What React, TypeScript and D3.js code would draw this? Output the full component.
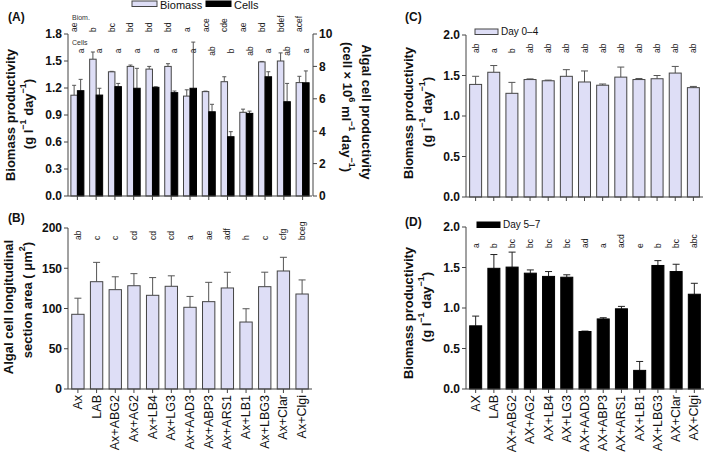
import React from 'react';
import * as d3 from 'd3';

// ---- data ----
const groupsAx = ['Ax', 'LAB', 'Ax+ABG2', 'Ax+AG2', 'Ax+LB4', 'Ax+LG3', 'Ax+AAD3', 'Ax+ABP3', 'Ax+ARS1', 'Ax+LB1', 'Ax+LBG3', 'Ax+Clar', 'Ax+Clgi'];
const groupsAX = ['AX', 'LAB', 'AX+ABG2', 'AX+AG2', 'AX+LB4', 'AX+LG3', 'AX+AAD3', 'AX+ABP3', 'AX+ARS1', 'AX+LB1', 'AX+LBG3', 'AX+Clar', 'AX+Clgi'];

// (A) biomass productivity (g/l/day) and cell productivity (10^6 cells/ml/day)
const biomassA = [1.12, 1.52, 1.38, 1.44, 1.41, 1.44, 1.11, 1.16, 1.27, 0.93, 1.49, 1.5, 1.26];
const biomassErrA = [0.11, 0.08, 0.005, 0.015, 0.03, 0.03, 0.07, 0.005, 0.055, 0.035, 0.005, 0.09, 0.07];
const cellsA = [6.5, 6.23, 6.75, 6.65, 6.71, 6.38, 6.65, 5.2, 3.66, 5.1, 7.36, 5.82, 6.99];
const cellsErrA = [0.7, 0.42, 0.2, 1.23, 0.03, 0.1, 2.85, 0.46, 0.31, 0.14, 0.31, 1.13, 0.73];
const biomLettersA = ['ae', 'b', 'bc', 'bd', 'bd', 'bd', 'a', 'ace', 'cde', 'ae', 'bd', 'bdef', 'acef'];
const cellLettersA = ['a', 'a', 'a', 'a', 'a', 'a', 'a', 'ab', 'b', 'ab', 'a', 'ab', 'a'];

// (B) cell longitudinal section area (um2)
const areaB = [92.8, 133.3, 123.4, 128.3, 116.4, 127.6, 101.5, 108.5, 125.5, 83.2, 127.1, 146.6, 118];
const areaErrB = [20, 24, 16, 15, 22, 13, 13.5, 24, 19.5, 16.5, 18, 17, 17.5];
const lettersB = ['ab', 'c', 'c', 'cd', 'cd', 'cd', 'a', 'ae', 'adf', 'h', 'c', 'cfg', 'bceg'];

// (C) biomass productivity day 0-4
const day04 = [1.39, 1.54, 1.28, 1.45, 1.435, 1.49, 1.42, 1.38, 1.48, 1.45, 1.46, 1.53, 1.35];
const day04Err = [0.1, 0.083, 0.135, 0.008, 0.008, 0.082, 0.136, 0.015, 0.124, 0.013, 0.04, 0.082, 0.015];
const lettersC = ['ab', 'a', 'b', 'ab', 'ab', 'ab', 'ab', 'ab', 'ab', 'ab', 'ab', 'ab', 'ab'];

// (D) biomass productivity day 5-7
const day57 = [0.78, 1.49, 1.505, 1.43, 1.39, 1.38, 0.71, 0.865, 0.99, 0.23, 1.525, 1.45, 1.17];
const day57Err = [0.12, 0.17, 0.185, 0.04, 0.06, 0.03, 0.005, 0.015, 0.03, 0.11, 0.06, 0.09, 0.135];
const lettersD = ['a', 'b', 'bc', 'bc', 'bc', 'bc', 'ad', 'a', 'acd', 'e', 'b', 'bc', 'abc'];

const ticks18 = [0, 0.3, 0.6, 0.9, 1.2, 1.5, 1.8];
const ticks10 = [0, 2, 4, 6, 8, 10];
const ticks200 = [0, 50, 100, 150, 200];
const ticks2 = [0, 0.5, 1, 1.5, 2];

const FONT = 'Arial, "Liberation Sans", Helvetica, sans-serif';
const LAV = '#dedef6';
const AX = '#444';
const TXT = '#111';

type Lin = d3.ScaleLinear<number, number>;

const YAxis = ({ y, x, ticks, fmt, right = false }: { y: Lin; x: number; ticks: number[]; fmt: (v: number) => string; right?: boolean }) => (
  <g>
    <line x1={x} x2={x} y1={y.range()[0]} y2={y.range()[1]} stroke={AX} />
    {ticks.map((t) => (
      <g key={t}>
        <line x1={x} x2={right ? x + 4 : x - 4} y1={y(t)} y2={y(t)} stroke={AX} />
        <text x={right ? x + 6 : x - 6} y={y(t)} dy="0.36em" textAnchor={right ? 'start' : 'end'}
          fontSize={12} fontWeight="bold" fill={TXT}>{fmt(t)}</text>
      </g>
    ))}
  </g>
);

const XAxis = ({ x, y0, groups, labels }: { x: d3.ScaleBand<string>; y0: number; groups: string[]; labels?: boolean }) => {
  const [a, b] = x.range();
  return (
    <g>
      <line x1={a} x2={b} y1={y0} y2={y0} stroke={AX} />
      {groups.map((g) => {
        const cx = (x(g) ?? 0) + x.bandwidth() / 2;
        return (
          <g key={g}>
            <line x1={cx} x2={cx} y1={y0} y2={y0 + 4} stroke={AX} />
            {labels && (
              <text transform={`translate(${cx},${y0 + 6}) rotate(-90)`} textAnchor="end" dominantBaseline="central"
                fontSize={12.5} fill={TXT}>{g}</text>
            )}
          </g>
        );
      })}
    </g>
  );
};

const Letter = ({ x, y, t, anchor = 'start' }: { x: number; y: number; t: string; anchor?: string }) => (
  <text transform={`translate(${x},${y}) rotate(-90)`} textAnchor={anchor} dominantBaseline="central"
    fontSize={8.5} fill="#222">{t}</text>
);

const ErrBar = ({ cx, y, v, e, cap, color = '#555' }: { cx: number; y: Lin; v: number; e: number; cap: number; color?: string }) => (
  <g stroke={color}>
    <line x1={cx} x2={cx} y1={y(v)} y2={y(v + e)} />
    <line x1={cx - cap / 2} x2={cx + cap / 2} y1={y(v + e)} y2={y(v + e)} />
  </g>
);

const Unit = ({ x, y, rot }: { x: number; y: number; rot: number }) => (
  <text transform={`translate(${x},${y}) rotate(${rot})`} textAnchor="middle" dominantBaseline="central"
    fontSize={13} fontWeight="bold" fill={TXT}>
    (g l<tspan dy={-5} fontSize={9}>−1</tspan><tspan dy={5}> day</tspan><tspan dy={-5} fontSize={9}>−1</tspan><tspan dy={5}>)</tspan>
  </text>
);

const Title = ({ x, y, rot, t }: { x: number; y: number; rot: number; t: string }) => (
  <text transform={`translate(${x},${y}) rotate(${rot})`} textAnchor="middle" dominantBaseline="central"
    fontSize={13} fontWeight="bold" fill={TXT}>{t}</text>
);

const BarPanel = ({ groups, values, errs, letters, y, xr, fill, stroke, errColor, letterY, labels }: {
  groups: string[]; values: number[]; errs: number[]; letters: string[]; y: Lin; xr: [number, number];
  fill: string; stroke: string; errColor: string; letterY: number; labels: boolean;
}) => {
  const x = d3.scaleBand<string>().domain(groups).range(xr).paddingInner(0.34).paddingOuter(0.2);
  const y0 = y.range()[0];
  return (
    <g>
      {groups.map((g, i) => {
        const bx = x(g) ?? 0;
        const cx = bx + x.bandwidth() / 2;
        return (
          <g key={g}>
            <ErrBar cx={cx} y={y} v={values[i]} e={errs[i]} cap={7} color={errColor} />
            <rect x={bx} y={y(values[i])} width={x.bandwidth()} height={y0 - y(values[i])} fill={fill} stroke={stroke} />
            <Letter x={cx} y={letterY} t={letters[i]} />
          </g>
        );
      })}
      <XAxis x={x} y0={y0} groups={groups} labels={labels} />
    </g>
  );
};

export default function App() {
  // panel A
  const xA = d3.scaleBand<string>().domain(groupsAx).range([68, 312]).padding(0);
  const yA = d3.scaleLinear().domain([0, 1.8]).range([196, 34]);
  const yAR = d3.scaleLinear().domain([0, 10]).range([196, 34]);
  const bw = 6.5;
  // panel B
  const yB = d3.scaleLinear().domain([0, 200]).range([389, 228]);
  // panels C, D
  const yC = d3.scaleLinear().domain([0, 2]).range([197, 35]);
  const yD = d3.scaleLinear().domain([0, 2]).range([389, 227]);

  return (
    <svg width={709} height={456} style={{ position: 'absolute', left: 0, top: 0, background: '#fff' }} fontFamily={FONT}>
      <rect width={709} height={456} fill="#fff" />

      {/* ---------- (A) ---------- */}
      <text x={8} y={21} fontSize={12} fontWeight="bold" fill={TXT}>(A)</text>
      <rect x={132} y={1} width={25} height={5.5} fill={LAV} stroke={AX} />
      <text x={160} y={9} fontSize={11} fill={TXT}>Biomass</text>
      <rect x={206} y={1} width={25} height={5.5} fill="#000" stroke="#000" />
      <text x={234} y={9} fontSize={11} fill={TXT}>Cells</text>
      <text x={72} y={20} fontSize={7} fill="#333">Biom.</text>
      <text x={72} y={45} fontSize={7} fill="#333">Cells</text>
      {groupsAx.map((g, i) => {
        const c = (xA(g) ?? 0) + xA.bandwidth() / 2;
        return (
          <g key={g}>
            <ErrBar cx={c - bw / 2} y={yA} v={biomassA[i]} e={biomassErrA[i]} cap={4} />
            <ErrBar cx={c + bw / 2} y={yAR} v={cellsA[i]} e={cellsErrA[i]} cap={4} />
            <rect x={c - bw} y={yA(biomassA[i])} width={bw} height={196 - yA(biomassA[i])} fill={LAV} stroke={AX} />
            <rect x={c} y={yAR(cellsA[i])} width={bw} height={196 - yAR(cellsA[i])} fill="#000" stroke="#000" />
            <Letter x={c - bw / 2} y={32} t={biomLettersA[i]} />
            <Letter x={c + bw / 2} y={51} t={cellLettersA[i]} anchor="middle" />
          </g>
        );
      })}
      <XAxis x={xA} y0={196} groups={groupsAx} />
      <YAxis y={yA} x={68} ticks={ticks18} fmt={d3.format('.1f')} />
      <YAxis y={yAR} x={313} ticks={ticks10} fmt={d3.format('d')} right />
      <Title x={10} y={115} rot={-90} t="Biomass productivity" />
      <Unit x={28} y={114} rot={-90} />
      <Title x={366} y={112} rot={90} t="Algal cell productivity" />
      <text transform="translate(347,107) rotate(90)" textAnchor="middle" dominantBaseline="central"
        fontSize={13} fontWeight="bold" fill={TXT}>
        (cell × 10<tspan dy={-5} fontSize={9}>6</tspan><tspan dy={5}> ml</tspan><tspan dy={-5} fontSize={9}>−1</tspan><tspan dy={5}> day</tspan><tspan dy={-5} fontSize={9}>−1</tspan><tspan dy={5}>)</tspan>
      </text>

      {/* ---------- (B) ---------- */}
      <text x={8} y={222} fontSize={12} fontWeight="bold" fill={TXT}>(B)</text>
      <BarPanel groups={groupsAx} values={areaB} errs={areaErrB} letters={lettersB} y={yB} xr={[68, 312]}
        fill={LAV} stroke={AX} errColor="#555" letterY={240} labels />
      <YAxis y={yB} x={68} ticks={ticks200} fmt={d3.format('d')} />
      <Title x={8} y={307} rot={-90} t="Algal cell longitudinal" />
      <text transform="translate(27,300) rotate(-90)" textAnchor="middle" dominantBaseline="central"
        fontSize={13} fontWeight="bold" fill={TXT}>
        section area ( μm<tspan dy={-5} fontSize={9}>2</tspan><tspan dy={5}>)</tspan>
      </text>

      {/* ---------- (C) ---------- */}
      <text x={405} y={21} fontSize={12} fontWeight="bold" fill={TXT}>(C)</text>
      <rect x={475} y={29} width={23} height={5.5} fill={LAV} stroke={AX} />
      <text x={501} y={35} fontSize={10} fill={TXT}>Day 0–4</text>
      <BarPanel groups={groupsAx} values={day04} errs={day04Err} letters={lettersC} y={yC} xr={[466, 703]}
        fill={LAV} stroke={AX} errColor="#555" letterY={53} labels={false} />
      <YAxis y={yC} x={466} ticks={ticks2} fmt={d3.format('.1f')} />
      <Title x={408} y={113} rot={-90} t="Biomass productivity" />
      <Unit x={427} y={112} rot={-90} />

      {/* ---------- (D) ---------- */}
      <text x={405} y={226} fontSize={12} fontWeight="bold" fill={TXT}>(D)</text>
      <rect x={477} y={222} width={23} height={5.5} fill="#000" stroke="#000" />
      <text x={503} y={228} fontSize={10} fill={TXT}>Day 5–7</text>
      <BarPanel groups={groupsAX} values={day57} errs={day57Err} letters={lettersD} y={yD} xr={[466, 704]}
        fill="#000" stroke="#000" errColor="#222" letterY={248} labels />
      <YAxis y={yD} x={466} ticks={ticks2} fmt={d3.format('.1f')} />
      <Title x={408} y={313} rot={-90} t="Biomass productivity" />
      <Unit x={426} y={307} rot={-90} />
    </svg>
  );
}
